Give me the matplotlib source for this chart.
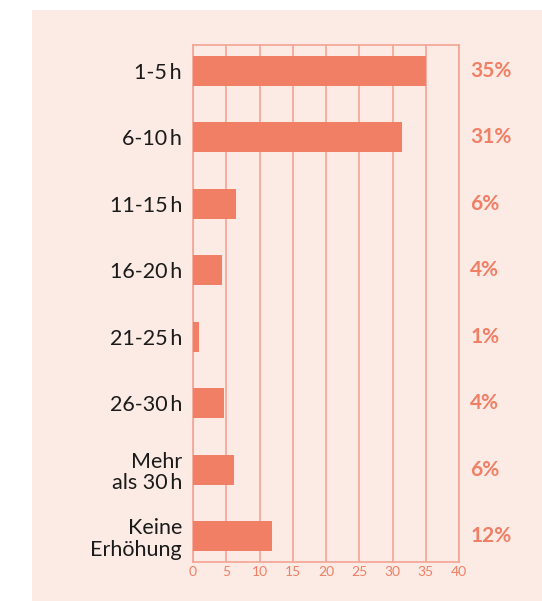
import matplotlib
matplotlib.use("Agg")
import matplotlib.pyplot as plt
from matplotlib.patches import Rectangle

categories = ["1-5\u2009h", "6-10\u2009h", "11-15\u2009h", "16-20\u2009h", "21-25\u2009h", "26-30\u2009h",
              "Mehr\nals 30\u2009h", "Keine\nErhöhung"]
values = [35, 31.5, 6.5, 4.4, 0.9, 4.7, 6.2, 11.9]
pct_labels = ["35%", "31%", "6%", "4%", "1%", "4%", "6%", "12%"]
xticks = [0, 5, 10, 15, 20, 25, 30, 35, 40]

bg = "#fbebe4"
bar_c = "#f07f66"
grid_c = "#f4a493"

fig = plt.figure(figsize=(5.42, 6.01), dpi=100)
fig.patch.set_facecolor("white")
fig.patches.append(Rectangle((32/542, 0), 1 - 32/542, 1 - 10/601, transform=fig.transFigure,
                             facecolor=bg, edgecolor="none", zorder=-10))

ax = fig.add_axes([193/542, 39/601, 266/542, 517/601])
ax.set_facecolor(bg)
ypos = list(range(len(categories)))
ax.barh(ypos, values, height=0.45, color=bar_c, zorder=3)
ax.set_xlim(0, 40)
ax.set_ylim(7.39, -0.39)
ax.set_xticks(xticks)
ax.set_xticklabels([str(t) for t in xticks], fontsize=10, color=bar_c, family=["Lato", "DejaVu Sans"])
ax.tick_params(axis="x", length=0, pad=3)
ax.set_yticks(ypos)
ax.set_yticklabels(categories, fontsize=15.5, color="#1a1a1a", family=["Lato", "DejaVu Sans"],
                   linespacing=1.1)
ax.tick_params(axis="y", length=0, pad=8)
for s in ax.spines.values():
    s.set_color(grid_c)
    s.set_linewidth(1.2)
ax.grid(axis="x", color=grid_c, linewidth=1.2, zorder=1)
ax.grid(axis="y", visible=False)

for y, lab in zip(ypos, pct_labels):
    ax.text(1.042, y, lab, transform=ax.get_yaxis_transform(), ha="left", va="center",
            fontsize=15, fontweight="bold", color=bar_c, family="Lato")

fig.savefig("out.png", dpi=100, facecolor="white")
